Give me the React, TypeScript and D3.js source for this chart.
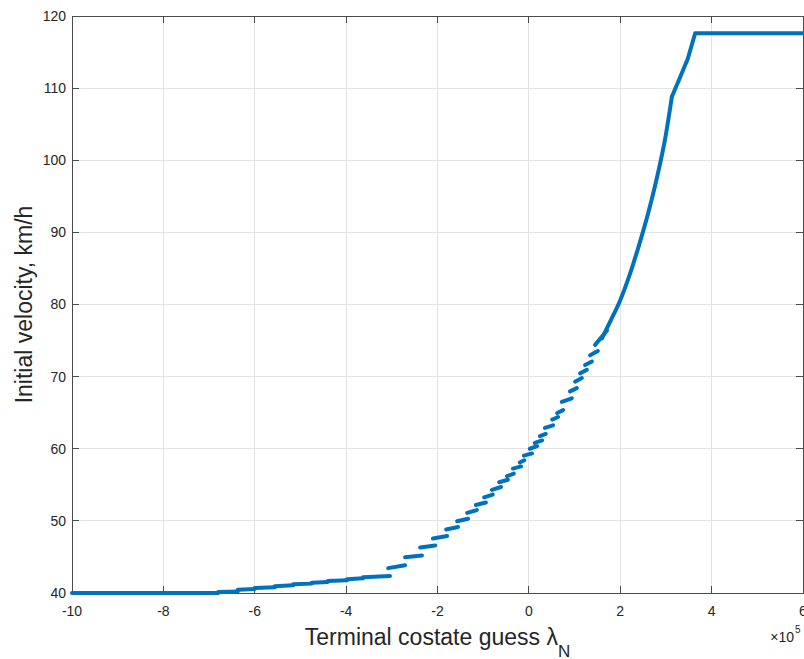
import React from "react";
import * as d3 from "d3";

// stepped part of the sweep: each piece runs from (x0, v0) to (x1, v1), x in units of 1e5
const stepX0 = [-10, -6.8, -6.37, -6.0, -5.56, -5.16, -4.75, -4.4, -3.98, -3.63, -3.08, -2.71, -2.38, -2.1, -1.81, -1.57, -1.35, -1.16, -0.98, -0.81, -0.65, -0.48, -0.35, -0.2, -0.11, 0.02, 0.13, 0.24, 0.35, 0.51, 0.62, 0.72, 0.9, 1.01, 1.12, 1.23, 1.34, 1.45];
const stepX1 = [-6.8, -6.37, -6.0, -5.56, -5.16, -4.75, -4.4, -3.98, -3.63, -3.04, -2.71, -2.34, -2.05, -1.79, -1.55, -1.33, -1.14, -0.94, -0.79, -0.61, -0.46, -0.33, -0.17, -0.1, 0.07, 0.18, 0.29, 0.37, 0.53, 0.64, 0.75, 0.94, 1.05, 1.16, 1.27, 1.38, 1.51, 1.71];
const stepV0 = [40, 40.15, 40.45, 40.68, 40.95, 41.2, 41.43, 41.65, 41.92, 42.18, 43.45, 44.95, 46.3, 47.55, 48.8, 49.95, 51.1, 52.2, 53.25, 54.3, 55.35, 56.2, 57.25, 58.1, 59.05, 60.0, 60.8, 61.75, 62.9, 64.05, 64.95, 66.5, 67.95, 69.3, 70.45, 71.6, 72.95, 74.4];
const stepV1 = [40, 40.22, 40.55, 40.8, 41.07, 41.3, 41.53, 41.77, 42.04, 42.36, 43.85, 45.2, 46.6, 47.9, 49.15, 50.3, 51.5, 52.55, 53.65, 54.7, 55.7, 56.55, 57.55, 58.4, 59.35, 60.35, 61.15, 62.05, 63.25, 64.4, 65.35, 67.0, 68.4, 69.8, 70.95, 72.1, 73.55, 76.4];

// smooth upper part, then the straight run up to the ceiling
const curveX = [1.6, 1.8, 2.0, 2.2, 2.4, 2.6, 2.8, 3.0, 3.13];
const curveV = [75.3, 77.9, 80.6, 84.0, 88.0, 92.4, 97.5, 103.6, 108.8];
const topX = [3.13, 3.31, 3.48, 3.64, 6];
const topV = [108.8, 111.5, 114.1, 117.6, 117.6];

const xTicks = [-10, -8, -6, -4, -2, 0, 2, 4, 6];
const yTicks = [40, 50, 60, 70, 80, 90, 100, 110, 120];

const W = 804;
const H = 659;
const margin = { left: 72, right: 1, top: 16, bottom: 66 };
const FONT = "'Liberation Sans', Arial, Helvetica, sans-serif";
const BLUE = "#0072BD";

export default function App() {
  const x = d3.scaleLinear().domain([-10, 6]).range([margin.left, W - margin.right]);
  const y = d3.scaleLinear().domain([40, 120]).range([H - margin.bottom, margin.top]);

  const x0 = x.range()[0];
  const x1 = x.range()[1];
  const yb = y.range()[0];
  const yt = y.range()[1];

  const line = d3
    .line<[number, number]>()
    .x((d) => x(d[0]))
    .y((d) => y(d[1]));
  const smooth = d3
    .line<[number, number]>()
    .x((d) => x(d[0]))
    .y((d) => y(d[1]))
    .curve(d3.curveMonotoneX);

  const steps = stepX0.map((s, i) => line([[s, stepV0[i]], [stepX1[i], stepV1[i]]]) as string);
  const curve = smooth(curveX.map((c, i) => [c, curveV[i]] as [number, number])) as string;
  const top = line(topX.map((c, i) => [c, topV[i]] as [number, number])) as string;

  const tickLen = 7;
  const axisColor = "#4a4a4a";
  const labelColor = "#262626";
  const fmt = (v: number) => String(v);

  return (
    <svg
      width={W}
      height={H}
      style={{ position: "absolute", left: 0, top: 0, display: "block", background: "#fff" }}
      fontFamily={FONT}
    >
      {/* grid */}
      <g stroke="#e3e3e3" strokeWidth={1} shapeRendering="crispEdges">
        {xTicks.map((t) => (
          <line key={"gx" + t} x1={x(t)} x2={x(t)} y1={yt} y2={yb} />
        ))}
        {yTicks.map((t) => (
          <line key={"gy" + t} x1={x0} x2={x1} y1={y(t)} y2={y(t)} />
        ))}
      </g>

      {/* box + ticks */}
      <g stroke={axisColor} strokeWidth={1} shapeRendering="crispEdges" fill="none">
        <rect x={x0} y={yt} width={x1 - x0} height={yb - yt} />
        {xTicks.map((t) => (
          <g key={"tx" + t}>
            <line x1={x(t)} x2={x(t)} y1={yb} y2={yb - tickLen} />
            <line x1={x(t)} x2={x(t)} y1={yt} y2={yt + tickLen} />
          </g>
        ))}
        {yTicks.map((t) => (
          <g key={"ty" + t}>
            <line x1={x0} x2={x0 + tickLen} y1={y(t)} y2={y(t)} />
            <line x1={x1} x2={x1 - tickLen} y1={y(t)} y2={y(t)} />
          </g>
        ))}
      </g>

      {/* data */}
      <g fill="none" stroke={BLUE} strokeWidth={4} strokeLinecap="round" strokeLinejoin="round">
        {steps.map((d, i) => (
          <path key={"s" + i} d={d} />
        ))}
        <path d={curve} />
        <path d={top} />
      </g>

      {/* tick labels */}
      <g fontSize={14} fill={labelColor}>
        {xTicks.map((t) => (
          <text key={"lx" + t} x={x(t)} y={yb + 23} textAnchor="middle">
            {fmt(t)}
          </text>
        ))}
        {yTicks.map((t) => (
          <text key={"ly" + t} x={x0 - 6} y={y(t)} dy="0.35em" textAnchor="end">
            {fmt(t)}
          </text>
        ))}
      </g>

      {/* exponent */}
      <g fill={labelColor}>
        <text x={794} y={642} fontSize={14} textAnchor="end">
          ×10
        </text>
        <text x={795} y={633} fontSize={10}>
          5
        </text>
      </g>

      {/* axis titles */}
      <text x={(x0 + x1) / 2} y={644.5} fontSize={23} fill={labelColor} textAnchor="middle">
        Terminal costate guess λ
        <tspan dy={12} fontSize={17}>
          N
        </tspan>
      </text>
      <text
        transform={`translate(31.5, ${(yt + yb) / 2}) rotate(-90)`}
        fontSize={23}
        fill={labelColor}
        textAnchor="middle"
      >
        Initial velocity, km/h
      </text>
    </svg>
  );
}
